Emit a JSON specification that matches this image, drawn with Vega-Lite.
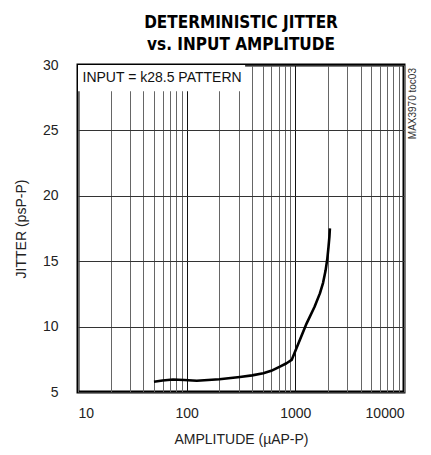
{
  "$schema": "https://vega.github.io/schema/vega-lite/v6.json",
  "autosize": "none",
  "width": 326,
  "height": 327,
  "padding": {"left": 78, "top": 65, "right": 27, "bottom": 63},
  "background": "white",
  "config": {
    "font": "Liberation Sans",
    "view": {"stroke": "black", "strokeWidth": 3},
    "axis": {"labelFont": "Liberation Sans", "titleFont": "Liberation Sans", "labelColor": "#222", "titleColor": "#222", "titleFontWeight": "normal"}
  },
  "title": {
    "text": ["DETERMINISTIC JITTER", "vs. INPUT AMPLITUDE"],
    "font": "DejaVu Sans Condensed, Liberation Sans, sans-serif",
    "fontWeight": "bold",
    "fontSize": 17,
    "lineHeight": 22,
    "anchor": "middle",
    "offset": 4,
    "color": "black"
  },
  "datasets": {
    "curve": [
      {"amp": 50, "jitter": 5.79},
      {"amp": 60, "jitter": 5.88},
      {"amp": 75, "jitter": 5.95},
      {"amp": 95, "jitter": 5.92},
      {"amp": 124, "jitter": 5.86},
      {"amp": 200, "jitter": 5.97},
      {"amp": 309, "jitter": 6.15},
      {"amp": 400, "jitter": 6.27},
      {"amp": 507, "jitter": 6.43},
      {"amp": 600, "jitter": 6.62},
      {"amp": 721, "jitter": 6.94},
      {"amp": 830, "jitter": 7.2},
      {"amp": 925, "jitter": 7.45},
      {"amp": 1271, "jitter": 10.25},
      {"amp": 1500, "jitter": 11.5},
      {"amp": 1683, "jitter": 12.54},
      {"amp": 1800, "jitter": 13.35},
      {"amp": 1900, "jitter": 14.3},
      {"amp": 1970, "jitter": 15.2},
      {"amp": 2020, "jitter": 16.1},
      {"amp": 2060, "jitter": 16.9},
      {"amp": 2080, "jitter": 17.51}
    ],
    "box": [{"x1": 10, "x2": 345, "y1": 28.0, "y2": 30}],
    "note": [{"x": 11, "y": 29.0, "t": "INPUT = k28.5 PATTERN"}],
    "code": [{"x": 12000, "y": 29.77, "t": "MAX3970 toc03"}]
  },
  "layer": [
    {
      "data": {"name": "curve"},
      "mark": {"type": "line", "color": "black", "strokeWidth": 2.6, "interpolate": "linear", "strokeJoin": "round"},
      "encoding": {
        "x": {
          "field": "amp", "type": "quantitative",
          "scale": {"type": "log", "domain": [10, 10000], "nice": false},
          "axis": {
            "title": "AMPLITUDE (µAP-P)",
            "titleFontSize": 14,
            "titlePadding": 12,
            "labelFontSize": 14,
            "labelPadding": 14,
            "labelOverlap": false,
            "ticks": false,
            "domain": false,
            "grid": true,
            "gridColor": {"condition": {"test": "datum.value == 100 || datum.value == 1000", "value": "#111"}, "value": "#666"},
            "gridWidth": 1,
            "values": [10,20,30,40,50,60,70,80,90,100,200,300,400,500,600,700,800,900,1000,2000,3000,4000,5000,6000,7000,8000,9000,10000],
            "labelExpr": "(datum.value == 10 || datum.value == 100 || datum.value == 1000 || datum.value == 10000) ? format(datum.value, 'd') : ''"
          }
        },
        "y": {
          "field": "jitter", "type": "quantitative",
          "scale": {"domain": [5, 30], "nice": false, "zero": false},
          "axis": {
            "title": "JITTER (psP-P)",
            "titleFontSize": 14,
            "titlePadding": 14,
            "labelFontSize": 14,
            "labelPadding": 20,
            "ticks": false,
            "domain": false,
            "grid": true,
            "gridColor": "#333",
            "gridWidth": 1,
            "values": [5, 10, 15, 20, 25, 30]
          }
        }
      }
    },
    {
      "data": {"name": "box"},
      "mark": {"type": "rect", "color": "white"},
      "encoding": {
        "x": {"field": "x1", "type": "quantitative"},
        "x2": {"field": "x2"},
        "y": {"field": "y1", "type": "quantitative"},
        "y2": {"field": "y2"}
      }
    },
    {
      "data": {"name": "note"},
      "mark": {"type": "text", "align": "left", "baseline": "middle", "fontSize": 14, "font": "Liberation Sans", "color": "#111"},
      "encoding": {
        "x": {"field": "x", "type": "quantitative"},
        "y": {"field": "y", "type": "quantitative"},
        "text": {"field": "t"}
      }
    },
    {
      "data": {"name": "code"},
      "mark": {"type": "text", "angle": 270, "align": "right", "baseline": "middle", "fontSize": 10, "font": "Liberation Sans", "color": "#333", "clip": false},
      "encoding": {
        "x": {"field": "x", "type": "quantitative"},
        "y": {"field": "y", "type": "quantitative"},
        "text": {"field": "t"}
      }
    }
  ]
}
